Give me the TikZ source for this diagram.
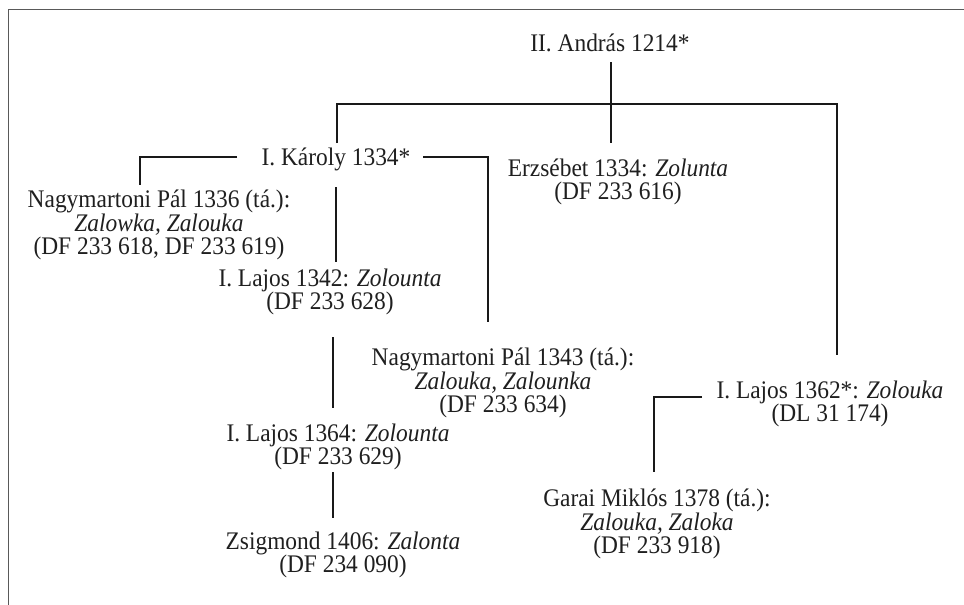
\documentclass[tikz,border=0pt]{standalone}
\usepackage{fontspec}
\setmainfont{Liberation Serif}[FakeStretch=0.925]
\usetikzlibrary{calc}
\begin{document}
\begin{tikzpicture}[x=1pt,y=-1pt,
  entry/.style={align=center, inner sep=0pt, text=black!88,
    font=\fontsize{25.3}{23.5}\selectfont},
  link/.style={draw=black!90, line width=1.1pt},
  frame/.style={draw=black!65, line width=1.5pt}]
\useasboundingbox (0,0) rectangle (964,605);
\draw[frame] (8.5,605) -- (8.5,9.5) -- (964,9.5);

\node[entry] (andras) at (610,43) {II. András 1214*};
\node[entry] (karoly) at (336,159) {I. Károly 1334*};
\node[entry] (erz) at (618,182) {Erzsébet 1334: \textit{Zolunta}\\(DF 233 616)};
\node[entry] (pal1336) at (159,225) {Nagymartoni Pál 1336 (tá.):\\\textit{Zalowka, Zalouka}\\(DF 233 618, DF 233 619)};
\node[entry] (lajos1342) at (330,292) {I. Lajos 1342: \textit{Zolounta}\\(DF 233 628)};
\node[entry] (pal1343) at (503,383) {Nagymartoni Pál 1343 (tá.):\\\textit{Zalouka, Zalounka}\\(DF 233 634)};
\node[entry] (lajos1362) at (830,404) {I. Lajos 1362*: \textit{Zolouka}\\(DL 31 174)};
\node[entry] (lajos1364) at (338,447) {I. Lajos 1364: \textit{Zolounta}\\(DF 233 629)};
\node[entry] (garai) at (657,524) {Garai Miklós 1378 (tá.):\\\textit{Zalouka, Zaloka}\\(DF 233 918)};
\node[entry] (zsig) at (343,555) {Zsigmond 1406: \textit{Zalonta}\\(DF 234 090)};

% junction coordinates
\coordinate (barL) at (337,104);
\coordinate (barR) at (837,104);
\coordinate (kL) at (140,157);
\coordinate (kR) at (488,157);
\coordinate (gJ) at (654,397);

% András
\draw[link] ($(andras.center)+(1,19)$) -- ($(erz.center)+(-7,-39)$);
\draw[link] ($(karoly.center)+(1,-16)$) -- (barL) -- (barR) -- ($(lajos1362.center)+(7,-49)$);
% Károly
\draw[link] ($(karoly.center)+(-99,-2)$) -- (kL) -- ($(pal1336.center)+(-19,-40)$);
\draw[link] ($(karoly.center)+(87,-2)$) -- (kR) -- ($(pal1343.center)+(-15,-61)$);
\draw[link] ($(karoly.center)+(0,28)$) -- ($(lajos1342.center)+(6,-30)$);
% Lajos line
\draw[link] ($(lajos1342.center)+(3,45)$) -- ($(lajos1364.center)+(-5,-39)$);
\draw[link] ($(lajos1364.center)+(-5,25)$) -- ($(zsig.center)+(-10,-37)$);
% Lajos 1362 -> Garai
\draw[link] ($(lajos1362.center)+(-128,-7)$) -- (gJ) -- ($(garai.center)+(-3,-52)$);
\end{tikzpicture}
\end{document}
